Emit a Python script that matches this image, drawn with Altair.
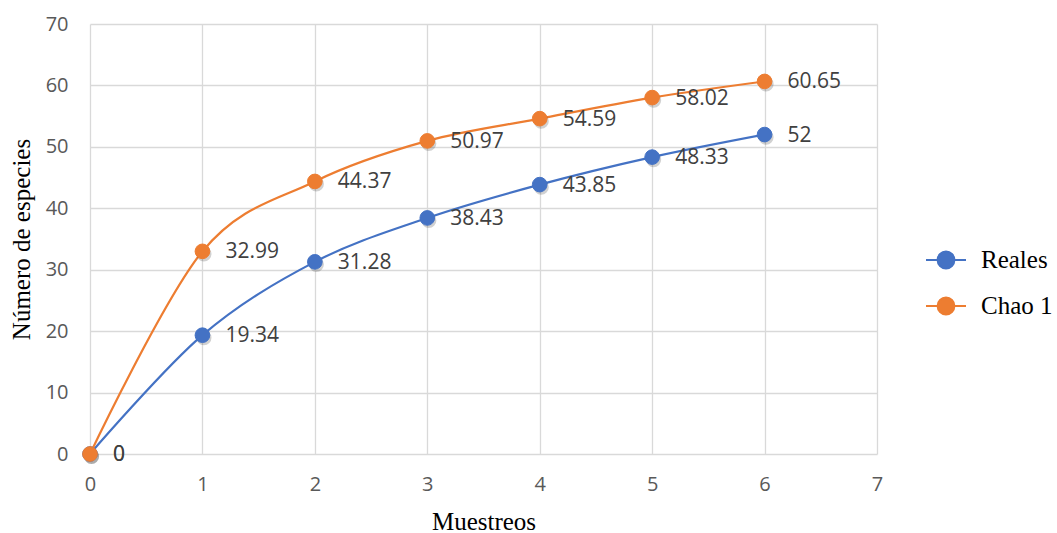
import altair as alt
import pandas as pd

# Muestreos (sampling rounds) and the species counts for each curve
muestreos = [0, 1, 2, 3, 4, 5, 6]
reales = [0, 19.34, 31.28, 38.43, 43.85, 48.33, 52]
chao1 = [0, 32.99, 44.37, 50.97, 54.59, 58.02, 60.65]

series_names = ["Reales", "Chao 1"]
series_colors = ["#4472C4", "#ED7D31"]

x_ticks = [0, 1, 2, 3, 4, 5, 6, 7]
y_ticks = [0, 10, 20, 30, 40, 50, 60, 70]

rows = []
for i, m in enumerate(muestreos):
    rows.append({"Muestreos": m, "Valor": reales[i], "Serie": "Reales", "orden": 0})
for i, m in enumerate(muestreos):
    rows.append({"Muestreos": m, "Valor": chao1[i], "Serie": "Chao 1", "orden": 1})
df = pd.DataFrame(rows)

label_font = "Open Sans"
serif = "Liberation Serif"

x_enc = alt.X(
    "Muestreos:Q",
    scale=alt.Scale(domain=[0, 7], nice=False),
    axis=alt.Axis(
        values=x_ticks, title="Muestreos", grid=True, domain=False, ticks=False,
        labelFlush=False, labelPadding=20, labelFontSize=20, labelFont=label_font,
        labelColor="#595959",
        titleFont=serif, titleFontSize=25, titleFontWeight="normal", titleColor="#000000",
        titlePadding=15, gridColor="#D9D9D9", gridWidth=1.3,
    ),
)
y_enc = alt.Y(
    "Valor:Q",
    scale=alt.Scale(domain=[0, 70], nice=False),
    axis=alt.Axis(
        values=y_ticks, title="Número de especies", grid=True, domain=False, ticks=False,
        labelFlush=False, labelPadding=22, labelFontSize=20, labelFont=label_font,
        labelColor="#595959",
        titleFont=serif, titleFontSize=25, titleFontWeight="normal", titleColor="#000000",
        titlePadding=11, gridColor="#D9D9D9", gridWidth=1.3,
    ),
)

# legend symbol: a short line segment with a circle in the middle
legend_symbol = (
    "M-1,0 L1,0 M-0.42,0 A0.42,0.42 0 1,0 0.42,0 A0.42,0.42 0 1,0 -0.42,0 Z"
)

legend = alt.Legend(
    title=None, orient="none", legendX=835, legendY=215,
    symbolType=legend_symbol, symbolSize=1600, symbolStrokeWidth=2,
    labelFont=serif, labelFontSize=25, labelColor="#000000", labelOffset=14,
    rowPadding=12,
)

fill_scale = alt.Scale(domain=series_names, range=series_colors)
stroke_scale = alt.Scale(domain=series_names, range=series_colors)

base = alt.Chart(df).encode(x=x_enc, y=y_enc)

lines = base.mark_line(interpolate="cardinal", tension=0, strokeWidth=2.2).encode(
    stroke=alt.Stroke("Serie:N", scale=stroke_scale, legend=legend),
    detail="Serie:N",
    order="Muestreos:Q",
)

shadow = base.mark_point(
    filled=True, size=230, color="#000000", opacity=0.18, xOffset=1.5, yOffset=2.5
).encode(detail="Serie:N")

points = base.mark_point(filled=True, size=215, opacity=1, strokeWidth=1).encode(
    fill=alt.Fill("Serie:N", scale=fill_scale, legend=legend),
    stroke=alt.Stroke("Serie:N", scale=stroke_scale, legend=legend),
    order="orden:Q",
)

labels = base.mark_text(
    align="left", baseline="middle", dx=23, dy=1, font=label_font, fontSize=21,
    color="#404040",
).encode(text=alt.Text("Valor:Q", format="~f"))

chart = (
    alt.layer(lines, shadow, points, labels)
    .resolve_scale(stroke="shared")
    .properties(
        width=787,
        height=430,
        autosize=alt.AutoSizeParams(type="none"),
        padding={"left": 90, "top": 24, "right": 180, "bottom": 79},
        background="#FFFFFF",
    )
    .configure_view(stroke=None)
)

chart.save("out.html", embed_options={"renderer": "svg", "actions": False})
